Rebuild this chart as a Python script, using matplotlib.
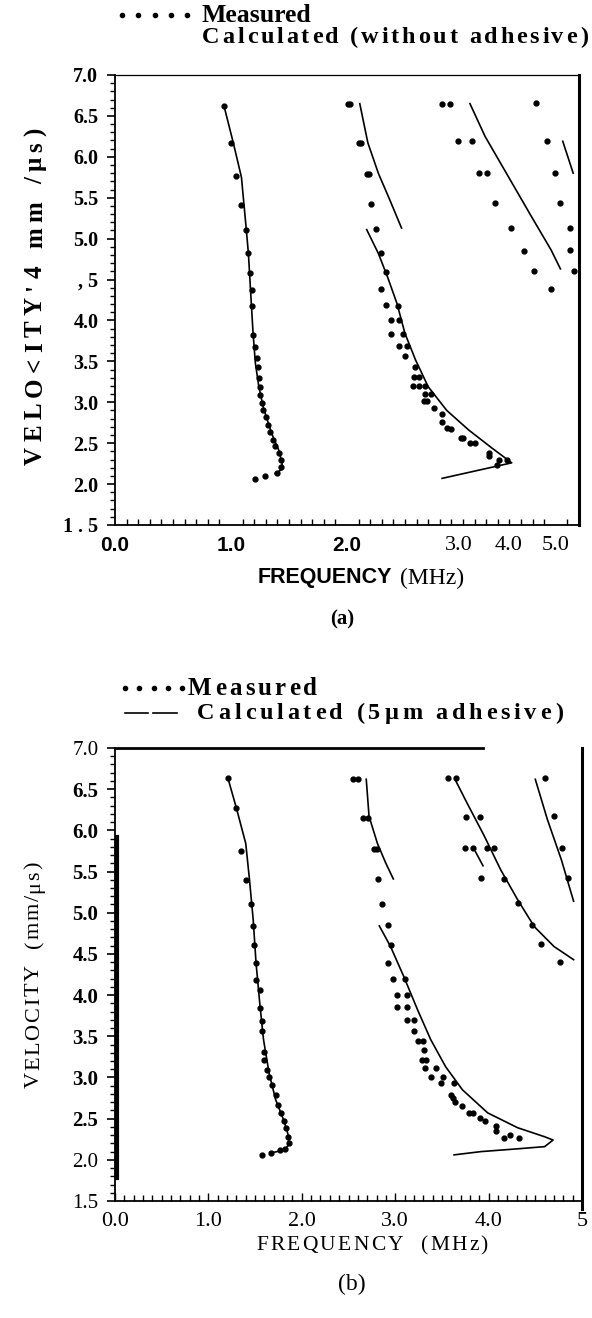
import numpy as np
import matplotlib.pyplot as plt
from matplotlib.lines import Line2D
from matplotlib.ticker import MultipleLocator

W, H = 592, 1318
SERIF = 'Liberation Serif'
SANS = 'Liberation Sans'

# ---- panel (a): without adhesive ----
a_meas1_f = [0.94, 1.00, 1.04, 1.09, 1.13, 1.15, 1.16, 1.18, 1.18, 1.19, 1.21, 1.22, 1.23, 1.24, 1.25,
             1.25, 1.27, 1.28, 1.30, 1.32, 1.34, 1.36, 1.38, 1.41, 1.43, 1.43, 1.40, 1.29, 1.21]
a_meas1_v = [6.62, 6.17, 5.76, 5.41, 5.10, 4.83, 4.58, 4.37, 4.18, 3.82, 3.68, 3.54, 3.43, 3.30, 3.19,
             3.09, 2.99, 2.90, 2.82, 2.72, 2.64, 2.54, 2.46, 2.38, 2.29, 2.21, 2.13, 2.10, 2.06]
a_calc1_f = [0.94, 1.02, 1.09, 1.13, 1.15, 1.17, 1.19, 1.21, 1.24, 1.28, 1.35, 1.41, 1.44, 1.44, 1.38]
a_calc1_v = [6.62, 6.17, 5.75, 5.14, 4.82, 4.33, 3.85, 3.48, 3.19, 2.93, 2.62, 2.42, 2.26, 2.18, 2.13]

a_meas2u_f = [2.01, 2.03, 2.10, 2.12, 2.17, 2.19, 2.21, 2.25]
a_meas2u_v = [6.65, 6.65, 6.17, 6.17, 5.79, 5.79, 5.42, 5.12]
a_calc2u_f = [2.11, 2.18, 2.27, 2.37, 2.47]
a_calc2u_v = [6.65, 6.17, 5.80, 5.47, 5.13]

a_meas2l_f = [2.29, 2.34, 2.29, 2.34, 2.44, 2.38, 2.45, 2.38, 2.48, 2.45, 2.52, 2.50, 2.59, 2.58, 2.62,
              2.57, 2.62, 2.67, 2.67, 2.72, 2.66, 2.69, 2.75, 2.82, 2.82, 2.86, 2.90, 2.98, 3.00, 3.06,
              3.10, 3.22, 3.22, 3.31, 3.29, 3.38]
a_meas2l_v = [4.83, 4.59, 4.38, 4.19, 4.18, 4.01, 4.00, 3.83, 3.83, 3.69, 3.69, 3.56, 3.43, 3.31, 3.31,
              3.20, 3.20, 3.20, 3.10, 3.10, 3.01, 3.01, 2.93, 2.86, 2.76, 2.69, 2.67, 2.56, 2.56, 2.50,
              2.50, 2.38, 2.34, 2.29, 2.23, 2.29]
a_calc2l_f = [2.17, 2.27, 2.35, 2.43, 2.50, 2.59, 2.70, 2.86, 3.05, 3.25, 3.42, 2.82]
a_calc2l_v = [5.11, 4.82, 4.53, 4.21, 3.84, 3.52, 3.19, 2.90, 2.66, 2.44, 2.26, 2.07]

a_meas3_f = [2.82, 2.89, 2.96, 3.08, 3.14, 3.21, 3.28, 3.41, 3.53, 3.61, 3.76]
a_meas3_v = [6.65, 6.65, 6.19, 6.19, 5.80, 5.80, 5.43, 5.13, 4.85, 4.61, 4.39]
a_calc3_f = [3.06, 3.19, 3.39, 3.59, 3.76, 3.84]
a_calc3_v = [6.65, 6.25, 5.76, 5.27, 4.86, 4.63]

a_meas4_f = [3.63, 3.72, 3.79, 3.84, 3.92, 3.92, 3.96]
a_meas4_v = [6.66, 6.19, 5.80, 5.44, 5.13, 4.86, 4.61]
a_calc4_f = [3.86, 3.95]
a_calc4_v = [6.19, 5.80]

a_xtick_pos = [0.0, 1.0, 2.0, 2.96, 3.39, 3.80]
a_xtick_lab = ['0.0', '1.0', '2.0', '3.0', '4.0', '5.0']
a_ytick_lab = ['1 . 5', '2.0', '2.5', '3.0', '3.5', '4.0', ', 5', '5.0', '5.5', '6.0', '6.5', '7.0']

# ---- panel (b): 5 um adhesive ----
b_meas1_f = [1.21, 1.30, 1.35, 1.40, 1.46, 1.48, 1.49, 1.51, 1.51, 1.55, 1.55, 1.57, 1.57, 1.59, 1.60,
             1.63, 1.65, 1.68, 1.72, 1.75, 1.78, 1.81, 1.83, 1.85, 1.86, 1.82, 1.77, 1.67, 1.57]
b_meas1_v = [6.63, 6.27, 5.75, 5.40, 5.11, 4.84, 4.61, 4.39, 4.18, 4.06, 3.84, 3.68, 3.56, 3.31, 3.21,
             3.09, 3.01, 2.91, 2.79, 2.67, 2.57, 2.47, 2.39, 2.28, 2.20, 2.13, 2.12, 2.08, 2.06]
b_calc1_f = [1.21, 1.30, 1.40, 1.44, 1.48, 1.51, 1.55, 1.59, 1.65, 1.72, 1.81, 1.86, 1.86, 1.81, 1.66]
b_calc1_v = [6.63, 6.27, 5.84, 5.40, 4.91, 4.39, 3.90, 3.46, 3.05, 2.73, 2.47, 2.28, 2.18, 2.12, 2.08]

b_meas2u_f = [2.55, 2.60, 2.66, 2.71, 2.77, 2.81, 2.82, 2.86, 2.92]
b_meas2u_v = [6.62, 6.62, 6.15, 6.15, 5.77, 5.77, 5.41, 5.11, 4.85]
b_calc2u_f = [2.69, 2.72, 2.81, 2.90, 2.98]
b_calc2u_v = [6.62, 6.17, 5.84, 5.60, 5.41]

b_meas2l_f = [2.96, 2.92, 2.98, 3.10, 3.02, 3.13, 3.02, 3.13, 3.13, 3.20, 3.20, 3.24, 3.30, 3.31, 3.29,
              3.33, 3.32, 3.44, 3.38, 3.51, 3.49, 3.63, 3.60, 3.62, 3.64, 3.72, 3.79, 3.83, 3.91, 3.96,
              4.08, 4.08, 4.17, 4.23, 4.33]
b_meas2l_v = [4.61, 4.39, 4.19, 4.19, 4.00, 4.00, 3.85, 3.85, 3.70, 3.70, 3.57, 3.44, 3.44, 3.33, 3.21,
              3.21, 3.11, 3.11, 3.01, 3.01, 2.93, 2.93, 2.79, 2.75, 2.70, 2.65, 2.57, 2.57, 2.51, 2.47,
              2.41, 2.35, 2.26, 2.30, 2.26]
b_calc2l_f = [2.83, 2.95, 3.09, 3.24, 3.38, 3.54, 3.72, 3.99, 4.31, 4.60, 4.69, 4.60, 4.27, 3.92, 3.63]
b_calc2l_v = [4.84, 4.59, 4.23, 3.82, 3.46, 3.13, 2.85, 2.57, 2.39, 2.28, 2.24, 2.16, 2.13, 2.10, 2.06]

b_meas3_f = [3.57, 3.65, 3.76, 3.91, 3.75, 3.83, 3.98, 4.06, 3.92, 4.16, 4.31, 4.46, 4.56, 4.76]
b_meas3_v = [6.63, 6.63, 6.16, 6.16, 5.78, 5.78, 5.78, 5.78, 5.42, 5.41, 5.12, 4.85, 4.62, 4.40]
b_calc3_f = [3.64, 3.77, 3.95, 4.13, 4.31, 4.49, 4.70, 4.91]
b_calc3_v = [6.62, 6.33, 5.94, 5.52, 5.16, 4.83, 4.59, 4.43]
b_calc3s_f = [3.86, 3.94]
b_calc3s_v = [5.74, 5.57]

b_meas4_f = [4.60, 4.70, 4.79, 4.85]
b_meas4_v = [6.63, 6.17, 5.78, 5.42]
b_calc4_f = [4.50, 4.63, 4.78, 4.91]
b_calc4_v = [6.62, 6.13, 5.64, 5.14]

b_edge_f = [0.02, 0.02]
b_edge_v = [1.78, 5.92]

b_xtick_lab = ['0.0', '1.0', '2.0', '3.0', '4.0', '5']
b_ytick_lab = ['1.5', '2.0', '2.5', '3.0', '3.5', '4.0', '4.5', '5.0', '5.5', '6.0', '6.5', '7.0']

yticks = np.arange(1.5, 7.01, 0.5)

fig = plt.figure(figsize=(W / 100, H / 100), dpi=100)
renderer = fig.canvas.get_renderer()


def fx(x):
    return x / W


def fy(y):
    return 1 - y / H


def tracked(start, end, base, s, vertical=False, **kw):
    # letter-spaced text: characters placed one by one so the string runs from start to end (pixels)
    rot = 90 if vertical else 0
    texts, widths = [], []
    for ch in s:
        t = fig.text(0, 0, ch, rotation=rot, rotation_mode='anchor', ha='left', va='baseline', **kw)
        bb = t.get_window_extent(renderer)
        w = bb.height if vertical else bb.width
        if ch == ' ':
            w = kw['fontsize'] * 100 / 72 * 0.25
        texts.append(t)
        widths.append(w)
    gap = (abs(end - start) - sum(widths)) / (len(s) - 1)
    pos = start
    for t, w in zip(texts, widths):
        if vertical:
            t.set_position((fx(base), fy(pos)))
            pos -= w + gap
        else:
            t.set_position((fx(pos), fy(base)))
            pos += w + gap


def setup_axis(ax, xmax):
    ax.set_xlim(0, xmax)
    ax.set_ylim(1.5, 7.0)
    ax.xaxis.set_minor_locator(MultipleLocator(0.1))
    ax.yaxis.set_minor_locator(MultipleLocator(0.1))
    ax.set_yticks(yticks)
    ax.tick_params(axis='x', which='both', direction='in', top=False, color='k')
    ax.tick_params(axis='x', which='minor', length=4, width=1.0)
    ax.tick_params(axis='y', which='major', direction='out', length=6, width=1.2, pad=6)
    ax.tick_params(axis='y', which='minor', direction='out', length=3.5, width=1.0)
    for s in ax.spines.values():
        s.set_linewidth(1.3)


def draw_mode(ax, mf, mv, cf=None, cv=None):
    ax.plot(mf, mv, ls='none', marker='o', ms=3.5, color='k')
    if cf is not None:
        ax.plot(cf, cv, color='k', lw=1.2)


# ---------------- panel (a) ----------------
ax_a = fig.add_axes([fx(115), fy(525), 464 / W, 450 / H])
setup_axis(ax_a, 4.0)
ax_a.set_xticks(a_xtick_pos)
ax_a.set_xticklabels(a_xtick_lab)
ax_a.tick_params(axis='x', which='major', length=0, pad=8)
for i, t in enumerate(ax_a.get_xticklabels()):
    if i < 3:
        t.set_fontfamily(SANS)
        t.set_fontweight('bold')
        t.set_fontsize(15)
    else:
        t.set_fontfamily(SERIF)
        t.set_fontsize(16)
ax_a.set_yticklabels(a_ytick_lab, fontfamily=SERIF, fontweight='bold', fontsize=14.5)
ax_a.spines['right'].set_linewidth(2.2)
ax_a.spines['top'].set_linewidth(0.9)

draw_mode(ax_a, a_meas1_f, a_meas1_v, a_calc1_f, a_calc1_v)
draw_mode(ax_a, a_meas2u_f, a_meas2u_v, a_calc2u_f, a_calc2u_v)
draw_mode(ax_a, a_meas2l_f, a_meas2l_v, a_calc2l_f, a_calc2l_v)
draw_mode(ax_a, a_meas3_f, a_meas3_v, a_calc3_f, a_calc3_v)
draw_mode(ax_a, a_meas4_f, a_meas4_v, a_calc4_f, a_calc4_v)

tracked(465, 128, 42, "VELO<ITY'4 mm /\u03bcs)", vertical=True,
        fontfamily=SERIF, fontweight='bold', fontsize=18)
fig.text(fx(392), fy(578), 'FREQUENCY', ha='right', va='center',
         fontfamily=SANS, fontweight='bold', fontsize=15.5)
fig.text(fx(400), fy(578), '(MHz)', ha='left', va='center', fontfamily=SERIF, fontsize=17)
fig.text(fx(342), fy(619), '(a)', ha='center', va='center', fontfamily=SERIF, fontweight='bold', fontsize=15)

fig.add_artist(Line2D(np.linspace(fx(122), fx(187), 5), [fy(15)] * 5, ls='none', marker='o', ms=3.0,
                      color='k', transform=fig.transFigure))
fig.text(fx(202), fy(22), 'Measured', ha='left', va='baseline', fontfamily=SERIF, fontweight='bold', fontsize=18.5)
tracked(202, 588, 43, 'Calculated (without adhesive)',
        fontfamily=SERIF, fontweight='bold', fontsize=17.5)

# ---------------- panel (b) ----------------
ax_b = fig.add_axes([fx(115), fy(1201), 467 / W, 453 / H])
setup_axis(ax_b, 5.0)
ax_b.set_xticks(np.arange(0, 5.01, 1.0))
ax_b.set_xticklabels(b_xtick_lab, fontfamily=SERIF, fontsize=16)
ax_b.tick_params(axis='x', which='major', length=6, width=1.0, pad=8)
ax_b.set_yticklabels(b_ytick_lab, fontfamily=SERIF, fontsize=15)
for t, s in zip(ax_b.get_yticklabels(), b_ytick_lab):
    if s not in ('7.0', '2.0', '1.5'):
        t.set_fontweight('bold')
ax_b.spines['top'].set_bounds(0, 3.94)
ax_b.spines['top'].set_linewidth(2.0)
ax_b.spines['right'].set_bounds(1.40, 7.0)
ax_b.spines['right'].set_linewidth(2.2)

draw_mode(ax_b, b_meas1_f, b_meas1_v, b_calc1_f, b_calc1_v)
draw_mode(ax_b, b_meas2u_f, b_meas2u_v, b_calc2u_f, b_calc2u_v)
draw_mode(ax_b, b_meas2l_f, b_meas2l_v, b_calc2l_f, b_calc2l_v)
draw_mode(ax_b, b_meas3_f, b_meas3_v, b_calc3_f, b_calc3_v)
draw_mode(ax_b, b_meas4_f, b_meas4_v, b_calc4_f, b_calc4_v)
ax_b.plot(b_calc3s_f, b_calc3s_v, color='k', lw=1.2)
ax_b.plot(b_edge_f, b_edge_v, color='k', lw=3, clip_on=False)

tracked(1088, 862, 39, 'VELOCITY  (mm/\u03bcs)', vertical=True, fontfamily=SERIF, fontsize=16)
tracked(256, 488, 1250, 'FREQUENCY  (MHz)', fontfamily=SERIF, fontsize=15.5)
fig.text(fx(352), fy(1284), '(b)', ha='center', va='center', fontfamily=SERIF, fontsize=17)

fig.add_artist(Line2D(np.linspace(fx(125), fx(182), 5), [fy(688)] * 5, ls='none', marker='o', ms=3.0,
                      color='k', transform=fig.transFigure))
fig.add_artist(Line2D([fx(125), fx(148)], [fy(713), fy(713)], color='k', lw=1.2, transform=fig.transFigure))
fig.add_artist(Line2D([fx(153), fx(177)], [fy(713), fy(713)], color='k', lw=1.2, transform=fig.transFigure))
tracked(188, 317, 695, 'Measured', fontfamily=SERIF, fontweight='bold', fontsize=18)
tracked(197, 563, 719, 'Calculated (5\u03bcm adhesive)', fontfamily=SERIF, fontweight='bold', fontsize=17.5)

fig.savefig('out.png', dpi=100)
